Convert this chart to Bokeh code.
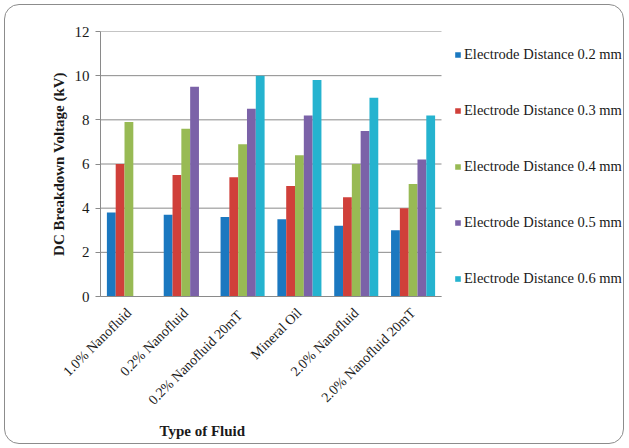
from math import pi
from bokeh.plotting import figure
from bokeh.models import ColumnDataSource, Legend, LegendItem, Title, Range1d, FixedTicker
from bokeh.embed import file_html
from bokeh.resources import INLINE

fluids = ["1.0% Nanofluid", "0.2% Nanofluid", "0.2% Nanofluid  20mT",
          "Mineral Oil", "2.0% Nanofluid", "2.0% Nanofluid 20mT"]
series_names = ["Electrode Distance 0.2 mm", "Electrode Distance 0.3 mm",
                "Electrode Distance 0.4 mm", "Electrode Distance 0.5 mm",
                "Electrode Distance 0.6 mm"]
nan = float("nan")
d02 = [3.8, 3.7, 3.6, 3.5, 3.2, 3.0]
d03 = [6.0, 5.5, 5.4, 5.0, 4.5, 4.0]
d04 = [7.9, 7.6, 6.9, 6.4, 6.0, 5.1]
d05 = [nan, 9.5, 8.5, 8.2, 7.5, 6.2]
d06 = [nan, nan, 10.0, 9.8, 9.0, 8.2]
y_ticks = [0, 2, 4, 6, 8, 10, 12]

colors = ["#1b78c0", "#d0403a", "#98ba54", "#7b62a8", "#25b3cf"]
FONT = "Liberation Serif"
GRID = "#8a8a8a"
TXT = "#1a1a1a"

W, H = 620, 440
ML, MR, MT, MB = 95, 2, 26, 149
frame_w = W - ML - MR
cat_px = 341.0  # width of the category area in pixels
n = len(fluids)
x_end = n * frame_w / cat_px

p = figure(x_range=Range1d(0, x_end), y_range=(0, 12), width=W, height=H,
           output_backend="svg", toolbar_location=None,
           min_border_left=ML, min_border_right=MR,
           min_border_top=MT, min_border_bottom=MB)
p.styles = {"border": "1px solid #8c8c8c", "border-radius": "15px",
            "overflow": "hidden", "margin": "4px 0 0 4px"}
p.border_fill_color = None
p.outline_line_color = None

# horizontal gridlines only across the category area
p.ygrid.grid_line_color = None
p.xgrid.grid_line_color = None
p.segment(x0=[0] * len(y_ticks), x1=[n] * len(y_ticks), y0=y_ticks, y1=y_ticks,
          line_color=GRID, line_width=1)

bw = 0.155
offsets = [-2 * bw, -bw, 0, bw, 2 * bw]
centers = [i + 0.5 for i in range(n)]
items = []
for name, vals, col, off in zip(series_names, [d02, d03, d04, d05, d06], colors, offsets):
    xs = [c + off for c, v in zip(centers, vals) if v == v]
    ys = [v for v in vals if v == v]
    src = ColumnDataSource(dict(x=xs, val=ys))
    r = p.vbar(x="x", top="val", width=bw, source=src, fill_color=col, line_color=None)
    items.append(LegendItem(label=name, renderers=[r]))

legend = Legend(items=items, location=(cat_px + 13, 9), padding=0,
                border_line_color=None, background_fill_alpha=0,
                glyph_width=7, glyph_height=7, label_height=15, spacing=39,
                label_standoff=3, label_text_font=FONT, label_text_font_size="14.5px",
                label_text_color=TXT)
p.add_layout(legend, "center")

p.yaxis.ticker = y_ticks
p.yaxis.axis_line_color = GRID
p.yaxis.major_tick_line_color = GRID
p.yaxis.major_tick_out = 5
p.yaxis.major_tick_in = 0
p.yaxis.minor_tick_line_color = None
p.yaxis.major_label_standoff = 6
p.yaxis.major_label_text_font = FONT
p.yaxis.major_label_text_font_size = "15px"
p.yaxis.major_label_text_color = TXT
p.yaxis.axis_label = "DC Breakdown Voltage (kV)"
p.yaxis.axis_label_text_font = FONT
p.yaxis.axis_label_text_font_style = "bold"
p.yaxis.axis_label_text_font_size = "15px"
p.yaxis.axis_label_text_color = TXT
p.yaxis.axis_label_standoff = 5

p.xaxis.ticker = FixedTicker(ticks=centers)
p.xaxis.major_label_overrides = {c: f for c, f in zip(centers, fluids)}
p.xaxis.bounds = (0, n)
p.xaxis.axis_line_color = GRID
p.xaxis.major_tick_line_color = None
p.xaxis.minor_tick_line_color = None
p.xaxis.major_label_orientation = pi / 4
p.xaxis.major_label_standoff = 8
p.xaxis.major_label_text_font = FONT
p.xaxis.major_label_text_font_size = "14px"
p.xaxis.major_label_text_color = TXT

xt = Title(text="Type of Fluid", align="left", offset=59, text_font=FONT,
           text_font_style="bold", text_font_size="15px", text_color=TXT)
p.add_layout(xt, "below")

open("out.html", "w").write(file_html(p, INLINE))
